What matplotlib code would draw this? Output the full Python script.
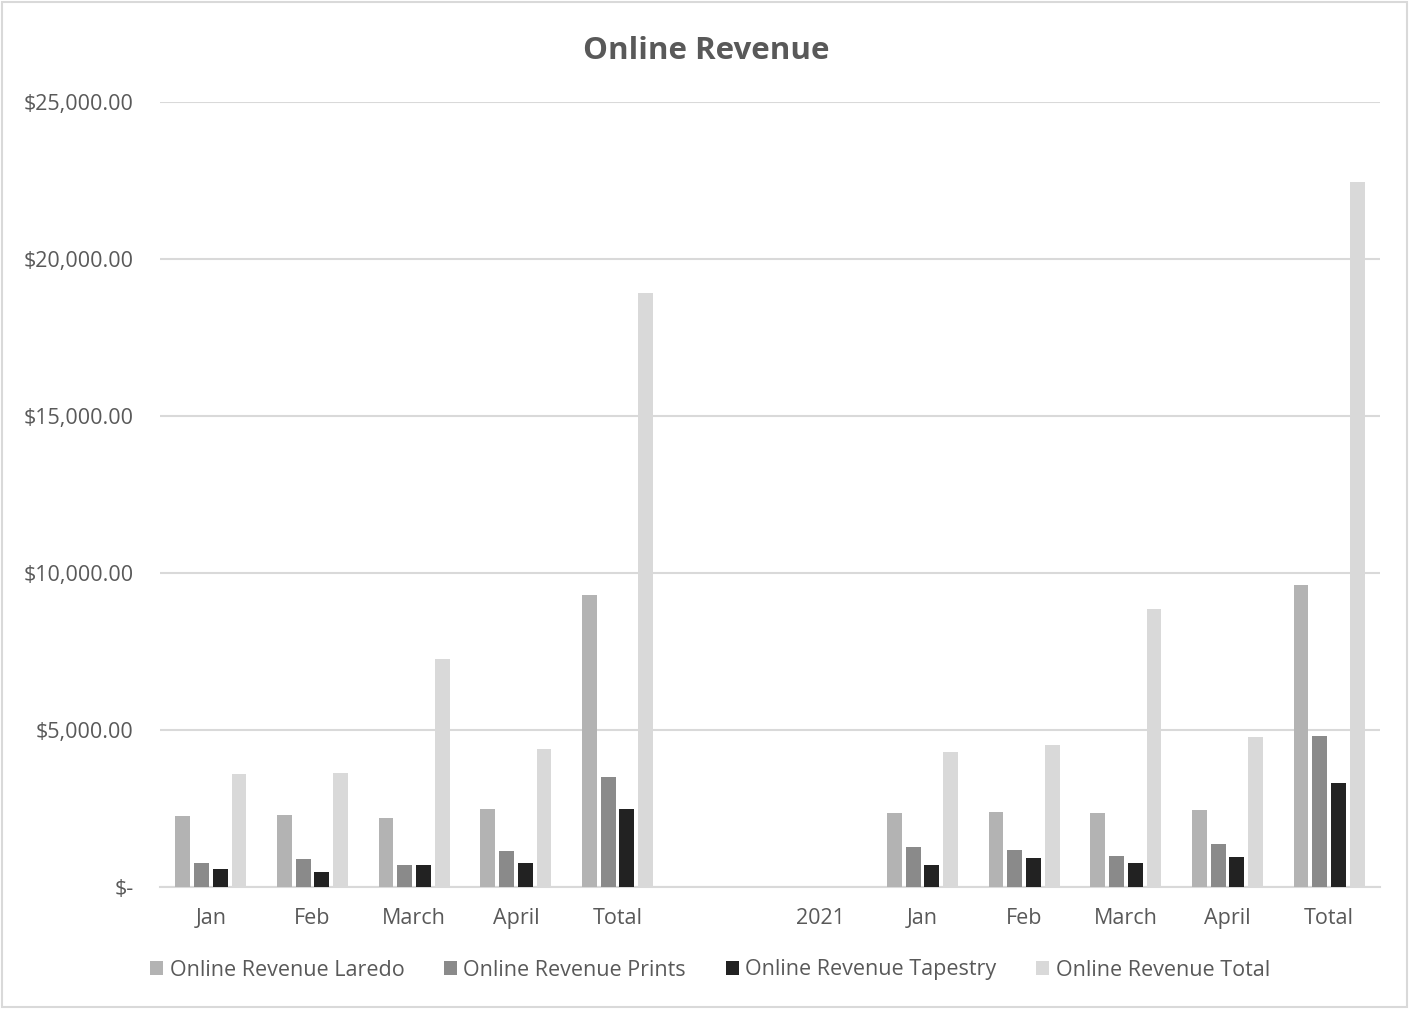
import matplotlib
matplotlib.use("Agg")
import matplotlib.pyplot as plt
import numpy as np
from matplotlib.patches import Rectangle
from matplotlib.ticker import FuncFormatter

categories = ["Jan", "Feb", "March", "April", "Total", "", "2021", "Jan", "Feb", "March", "April", "Total"]
laredo = [2256, 2278, 2202, 2490, 9278, np.nan, np.nan, 2362, 2394, 2352, 2438, 9598]
prints = [766, 874, 702, 1130, 3492, np.nan, np.nan, 1257, 1181, 970, 1363, 4788]
tapestry = [555, 479, 683, 747, 2480, np.nan, np.nan, 683, 906, 747, 948, 3288]
total = [3597, 3629, 7258, 4385, 18908, np.nan, np.nan, 4299, 4500, 8832, 4756, 22451]
series_names = ["Online Revenue Laredo", "Online Revenue Prints", "Online Revenue Tapestry", "Online Revenue Total"]
colors = ["#b3b3b3", "#8a8a8a", "#222222", "#d9d9d9"]

plt.rcParams['font.family'] = ['Open Sans', 'DejaVu Sans']
text_color = "#595959"

fig = plt.figure(figsize=(14.09, 10.09), dpi=100)
ax = fig.add_axes([160/1409, (1009-886.7)/1009, 1220/1409, (886.7-102)/1009])

x = np.arange(len(categories))
step = 0.184
width = 0.145
data = [laredo, prints, tapestry, total]
for i, (vals, name, c) in enumerate(zip(data, series_names, colors)):
    ax.bar(x + (i - 1.5) * step, vals, width=width, color=c, label=name, zorder=3)

ax.set_xlim(-0.5, len(categories) - 0.5)
ax.set_ylim(0, 25000)
ax.set_yticks(np.arange(0, 25001, 5000))
ax.yaxis.set_major_formatter(FuncFormatter(lambda v, p: "$-" if v == 0 else f"${v:,.2f}"))
ax.set_xticks(x)
ax.set_xticklabels(categories)
ax.grid(axis='y', color="#d9d9d9", linewidth=1.5, zorder=0)
for s in ["top", "right", "left"]:
    ax.spines[s].set_visible(False)
ax.spines["bottom"].set_color("#d9d9d9")
ax.spines["bottom"].set_linewidth(1.5)
ax.tick_params(axis='both', length=0, colors=text_color, labelsize=15.5)
ax.tick_params(axis='x', pad=15)
ax.tick_params(axis='y', pad=19)

fig.text(706/1409, 1 - 51/1009, "Online Revenue", ha='center', va='center',
         fontsize=22.5, fontweight='bold', color=text_color)

leg = fig.legend(loc='center', bbox_to_anchor=(710/1409, 1 - 970/1009), ncol=4, frameon=False,
                 fontsize=15.5, handlelength=0.6, handleheight=0.6, handletextpad=0.3,
                 columnspacing=1.85, labelcolor=text_color)

fig.patches.append(Rectangle((2/1409, 2/1009), 1 - 4/1409, 1 - 4/1009, transform=fig.transFigure,
                             fill=False, edgecolor="#d9d9d9", linewidth=1.5))

fig.savefig("out.png", dpi=100)
